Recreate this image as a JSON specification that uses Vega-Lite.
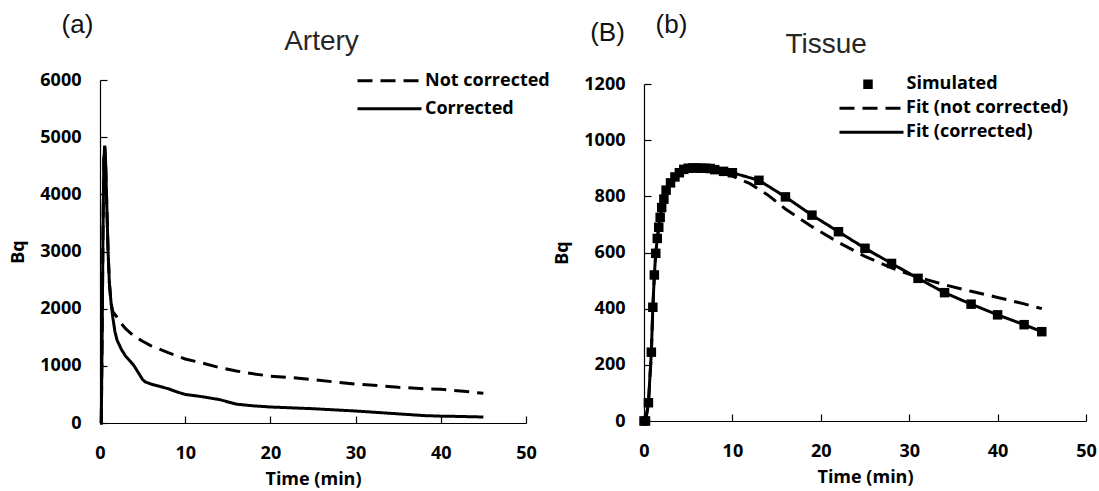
{
  "$schema": "https://vega.github.io/schema/vega-lite/v6.json",
  "background": "white",
  "padding": {"left": 9, "top": 12, "right": 0, "bottom": 0},
  "spacing": 118,
  "bounds": "flush",
  "resolve": {"legend": {"strokeDash": "independent", "shape": "independent"}, "scale": {"x": "independent", "y": "independent", "strokeDash": "independent", "shape": "independent"}},
  "config": {
    "view": {"stroke": null},
    "axis": {
      "domainColor": "black", "domainWidth": 1.2, "tickColor": "black", "tickWidth": 1.2, "tickSize": -7,
      "labelFont": "Open Sans", "labelFontWeight": "bold", "labelFontSize": 18, "labelColor": "black",
      "titleFont": "Open Sans", "titleFontWeight": "bold", "titleFontSize": 18, "titleColor": "black",
      "grid": false, "labelFlush": false, "labelOverlap": false
    },
    "axisX": {"labelPadding": 28, "titlePadding": 8},
    "axisY": {"labelPadding": 26, "titlePadding": 12},
    "legend": {
      "labelFont": "Open Sans", "labelFontWeight": "bold", "labelFontSize": 18, "labelColor": "black",
      "padding": 0, "rowPadding": 0, "symbolStrokeWidth": 3, "symbolStrokeColor": "black", "labelLimit": 300
    }
  },
  "datasets": {
    "artery": [
      {"t": 0, "bq": 0, "series": "Corrected"},
      {"t": 0.15, "bq": 0, "series": "Corrected"},
      {"t": 0.25, "bq": 1500, "series": "Corrected"},
      {"t": 0.35, "bq": 3300, "series": "Corrected"},
      {"t": 0.45, "bq": 4600, "series": "Corrected"},
      {"t": 0.55, "bq": 4850, "series": "Corrected"},
      {"t": 0.65, "bq": 4600, "series": "Corrected"},
      {"t": 0.8, "bq": 3800, "series": "Corrected"},
      {"t": 0.95, "bq": 3000, "series": "Corrected"},
      {"t": 1.1, "bq": 2450, "series": "Corrected"},
      {"t": 1.3, "bq": 2100, "series": "Corrected"},
      {"t": 1.5, "bq": 1850, "series": "Corrected"},
      {"t": 1.75, "bq": 1600, "series": "Corrected"},
      {"t": 2, "bq": 1450, "series": "Corrected"},
      {"t": 2.5, "bq": 1290, "series": "Corrected"},
      {"t": 3, "bq": 1170, "series": "Corrected"},
      {"t": 3.5, "bq": 1090, "series": "Corrected"},
      {"t": 4, "bq": 1000, "series": "Corrected"},
      {"t": 4.5, "bq": 880, "series": "Corrected"},
      {"t": 5, "bq": 760, "series": "Corrected"},
      {"t": 5.3, "bq": 720, "series": "Corrected"},
      {"t": 6, "bq": 680, "series": "Corrected"},
      {"t": 7, "bq": 640, "series": "Corrected"},
      {"t": 8, "bq": 600, "series": "Corrected"},
      {"t": 9, "bq": 545, "series": "Corrected"},
      {"t": 10, "bq": 500, "series": "Corrected"},
      {"t": 12, "bq": 460, "series": "Corrected"},
      {"t": 14, "bq": 410, "series": "Corrected"},
      {"t": 16, "bq": 330, "series": "Corrected"},
      {"t": 18, "bq": 300, "series": "Corrected"},
      {"t": 20, "bq": 280, "series": "Corrected"},
      {"t": 25, "bq": 250, "series": "Corrected"},
      {"t": 30, "bq": 210, "series": "Corrected"},
      {"t": 35, "bq": 160, "series": "Corrected"},
      {"t": 38, "bq": 130, "series": "Corrected"},
      {"t": 40, "bq": 120, "series": "Corrected"},
      {"t": 42, "bq": 115, "series": "Corrected"},
      {"t": 45, "bq": 105, "series": "Corrected"},
      {"t": 0, "bq": 0, "series": "Not corrected"},
      {"t": 0.15, "bq": 0, "series": "Not corrected"},
      {"t": 0.25, "bq": 1500, "series": "Not corrected"},
      {"t": 0.35, "bq": 3300, "series": "Not corrected"},
      {"t": 0.45, "bq": 4600, "series": "Not corrected"},
      {"t": 0.55, "bq": 4850, "series": "Not corrected"},
      {"t": 0.65, "bq": 4600, "series": "Not corrected"},
      {"t": 0.8, "bq": 3800, "series": "Not corrected"},
      {"t": 0.95, "bq": 3000, "series": "Not corrected"},
      {"t": 1.1, "bq": 2450, "series": "Not corrected"},
      {"t": 1.3, "bq": 2100, "series": "Not corrected"},
      {"t": 1.5, "bq": 1950, "series": "Not corrected"},
      {"t": 1.75, "bq": 1900, "series": "Not corrected"},
      {"t": 2, "bq": 1850, "series": "Not corrected"},
      {"t": 2.5, "bq": 1740, "series": "Not corrected"},
      {"t": 3, "bq": 1650, "series": "Not corrected"},
      {"t": 4, "bq": 1520, "series": "Not corrected"},
      {"t": 5, "bq": 1430, "series": "Not corrected"},
      {"t": 6, "bq": 1350, "series": "Not corrected"},
      {"t": 8, "bq": 1230, "series": "Not corrected"},
      {"t": 10, "bq": 1120, "series": "Not corrected"},
      {"t": 12, "bq": 1050, "series": "Not corrected"},
      {"t": 14, "bq": 970, "series": "Not corrected"},
      {"t": 16, "bq": 910, "series": "Not corrected"},
      {"t": 18, "bq": 860, "series": "Not corrected"},
      {"t": 20, "bq": 820, "series": "Not corrected"},
      {"t": 22, "bq": 800, "series": "Not corrected"},
      {"t": 25, "bq": 760, "series": "Not corrected"},
      {"t": 28, "bq": 710, "series": "Not corrected"},
      {"t": 30, "bq": 680, "series": "Not corrected"},
      {"t": 33, "bq": 650, "series": "Not corrected"},
      {"t": 35, "bq": 625, "series": "Not corrected"},
      {"t": 38, "bq": 600, "series": "Not corrected"},
      {"t": 40, "bq": 590, "series": "Not corrected"},
      {"t": 43, "bq": 550, "series": "Not corrected"},
      {"t": 45, "bq": 520, "series": "Not corrected"}
    ],
    "sim": [
      {"t": 0, "bq": 0, "kind": "Simulated"},
      {"t": 0.17, "bq": 0, "kind": "Simulated"},
      {"t": 0.5, "bq": 65, "kind": "Simulated"},
      {"t": 0.83, "bq": 245, "kind": "Simulated"},
      {"t": 1.0, "bq": 405, "kind": "Simulated"},
      {"t": 1.17, "bq": 520, "kind": "Simulated"},
      {"t": 1.33, "bq": 597, "kind": "Simulated"},
      {"t": 1.5, "bq": 650, "kind": "Simulated"},
      {"t": 1.67, "bq": 690, "kind": "Simulated"},
      {"t": 1.83, "bq": 725, "kind": "Simulated"},
      {"t": 2.0, "bq": 760, "kind": "Simulated"},
      {"t": 2.25, "bq": 790, "kind": "Simulated"},
      {"t": 2.5, "bq": 822, "kind": "Simulated"},
      {"t": 3.0, "bq": 848, "kind": "Simulated"},
      {"t": 3.5, "bq": 869, "kind": "Simulated"},
      {"t": 4.0, "bq": 884, "kind": "Simulated"},
      {"t": 4.5, "bq": 896, "kind": "Simulated"},
      {"t": 5, "bq": 900, "kind": "Simulated"},
      {"t": 5.5, "bq": 901, "kind": "Simulated"},
      {"t": 6, "bq": 901, "kind": "Simulated"},
      {"t": 6.5, "bq": 900, "kind": "Simulated"},
      {"t": 7, "bq": 900, "kind": "Simulated"},
      {"t": 7.5, "bq": 899, "kind": "Simulated"},
      {"t": 8, "bq": 895, "kind": "Simulated"},
      {"t": 9, "bq": 889, "kind": "Simulated"},
      {"t": 10, "bq": 884, "kind": "Simulated"},
      {"t": 13, "bq": 857, "kind": "Simulated"},
      {"t": 16, "bq": 798, "kind": "Simulated"},
      {"t": 19, "bq": 733, "kind": "Simulated"},
      {"t": 22, "bq": 674, "kind": "Simulated"},
      {"t": 25, "bq": 615, "kind": "Simulated"},
      {"t": 28, "bq": 561, "kind": "Simulated"},
      {"t": 31, "bq": 508, "kind": "Simulated"},
      {"t": 34, "bq": 457, "kind": "Simulated"},
      {"t": 37, "bq": 416, "kind": "Simulated"},
      {"t": 40, "bq": 378, "kind": "Simulated"},
      {"t": 43, "bq": 343, "kind": "Simulated"},
      {"t": 45, "bq": 318, "kind": "Simulated"}
    ],
    "fit": [
      {"t": 0, "bq": 0, "series": "Fit (corrected)"},
      {"t": 0.17, "bq": 0, "series": "Fit (corrected)"},
      {"t": 0.5, "bq": 65, "series": "Fit (corrected)"},
      {"t": 0.83, "bq": 245, "series": "Fit (corrected)"},
      {"t": 1.0, "bq": 405, "series": "Fit (corrected)"},
      {"t": 1.17, "bq": 520, "series": "Fit (corrected)"},
      {"t": 1.33, "bq": 597, "series": "Fit (corrected)"},
      {"t": 1.5, "bq": 650, "series": "Fit (corrected)"},
      {"t": 1.67, "bq": 690, "series": "Fit (corrected)"},
      {"t": 1.83, "bq": 725, "series": "Fit (corrected)"},
      {"t": 2.0, "bq": 760, "series": "Fit (corrected)"},
      {"t": 2.5, "bq": 822, "series": "Fit (corrected)"},
      {"t": 3.0, "bq": 848, "series": "Fit (corrected)"},
      {"t": 3.5, "bq": 869, "series": "Fit (corrected)"},
      {"t": 4.0, "bq": 884, "series": "Fit (corrected)"},
      {"t": 5, "bq": 900, "series": "Fit (corrected)"},
      {"t": 6, "bq": 901, "series": "Fit (corrected)"},
      {"t": 7, "bq": 900, "series": "Fit (corrected)"},
      {"t": 8, "bq": 895, "series": "Fit (corrected)"},
      {"t": 10, "bq": 884, "series": "Fit (corrected)"},
      {"t": 13, "bq": 857, "series": "Fit (corrected)"},
      {"t": 16, "bq": 798, "series": "Fit (corrected)"},
      {"t": 19, "bq": 733, "series": "Fit (corrected)"},
      {"t": 22, "bq": 674, "series": "Fit (corrected)"},
      {"t": 25, "bq": 615, "series": "Fit (corrected)"},
      {"t": 28, "bq": 561, "series": "Fit (corrected)"},
      {"t": 31, "bq": 508, "series": "Fit (corrected)"},
      {"t": 34, "bq": 457, "series": "Fit (corrected)"},
      {"t": 37, "bq": 416, "series": "Fit (corrected)"},
      {"t": 40, "bq": 378, "series": "Fit (corrected)"},
      {"t": 43, "bq": 343, "series": "Fit (corrected)"},
      {"t": 45, "bq": 318, "series": "Fit (corrected)"},
      {"t": 0, "bq": 0, "series": "Fit (not corrected)"},
      {"t": 0.17, "bq": 0, "series": "Fit (not corrected)"},
      {"t": 0.5, "bq": 60, "series": "Fit (not corrected)"},
      {"t": 0.83, "bq": 240, "series": "Fit (not corrected)"},
      {"t": 1.0, "bq": 400, "series": "Fit (not corrected)"},
      {"t": 1.17, "bq": 515, "series": "Fit (not corrected)"},
      {"t": 1.33, "bq": 595, "series": "Fit (not corrected)"},
      {"t": 1.5, "bq": 648, "series": "Fit (not corrected)"},
      {"t": 1.67, "bq": 688, "series": "Fit (not corrected)"},
      {"t": 1.83, "bq": 722, "series": "Fit (not corrected)"},
      {"t": 2, "bq": 755, "series": "Fit (not corrected)"},
      {"t": 2.5, "bq": 818, "series": "Fit (not corrected)"},
      {"t": 3, "bq": 846, "series": "Fit (not corrected)"},
      {"t": 3.5, "bq": 866, "series": "Fit (not corrected)"},
      {"t": 4, "bq": 880, "series": "Fit (not corrected)"},
      {"t": 5, "bq": 893, "series": "Fit (not corrected)"},
      {"t": 6, "bq": 897, "series": "Fit (not corrected)"},
      {"t": 7, "bq": 896, "series": "Fit (not corrected)"},
      {"t": 8, "bq": 890, "series": "Fit (not corrected)"},
      {"t": 9, "bq": 882, "series": "Fit (not corrected)"},
      {"t": 10, "bq": 872, "series": "Fit (not corrected)"},
      {"t": 12, "bq": 845, "series": "Fit (not corrected)"},
      {"t": 14, "bq": 805, "series": "Fit (not corrected)"},
      {"t": 16, "bq": 755, "series": "Fit (not corrected)"},
      {"t": 19, "bq": 692, "series": "Fit (not corrected)"},
      {"t": 22, "bq": 636, "series": "Fit (not corrected)"},
      {"t": 25, "bq": 586, "series": "Fit (not corrected)"},
      {"t": 28, "bq": 545, "series": "Fit (not corrected)"},
      {"t": 31, "bq": 512, "series": "Fit (not corrected)"},
      {"t": 34, "bq": 485, "series": "Fit (not corrected)"},
      {"t": 37, "bq": 462, "series": "Fit (not corrected)"},
      {"t": 40, "bq": 440, "series": "Fit (not corrected)"},
      {"t": 43, "bq": 417, "series": "Fit (not corrected)"},
      {"t": 45, "bq": 400, "series": "Fit (not corrected)"}
    ]
  },
  "hconcat": [
    {
      "width": 426,
      "height": 343,
      "layer": [
        {
          "data": {"name": "artery"},
          "mark": {"type": "line", "color": "black", "strokeWidth": 3, "strokeCap": "butt"},
          "encoding": {
            "x": {"field": "t", "type": "quantitative", "scale": {"domain": [0, 50], "nice": false},
                  "axis": {"values": [0, 10, 20, 30, 40, 50], "title": "Time (min)", "format": "d"}},
            "y": {"field": "bq", "type": "quantitative", "scale": {"domain": [0, 6000], "nice": false},
                  "axis": {"values": [0, 1000, 2000, 3000, 4000, 5000, 6000], "title": "Bq", "format": "d"}},
            "strokeDash": {"field": "series", "type": "nominal",
              "scale": {"domain": ["Not corrected", "Corrected"], "range": [[15, 8], [1, 0]]},
              "legend": {"title": null, "orient": "none", "legendX": 256, "legendY": -13.2,
                         "symbolType": "stroke", "symbolSize": 4096, "clipHeight": 28, "labelOffset": 2}}
          }
        },
        {
          "data": {"values": [{}]},
          "mark": {"type": "text", "text": "(a)", "font": "Liberation Sans", "fontSize": 26, "align": "center", "baseline": "middle", "color": "#111111"},
          "encoding": {"x": {"datum": -2.64, "type": "quantitative"}, "y": {"datum": 6962, "type": "quantitative"}}
        },
        {
          "data": {"values": [{}]},
          "mark": {"type": "text", "text": "Artery", "font": "Liberation Sans", "fontSize": 28, "align": "center", "baseline": "middle", "color": "#262626"},
          "encoding": {"x": {"datum": 26.0, "type": "quantitative"}, "y": {"datum": 6670, "type": "quantitative"}}
        }
      ]
    },
    {
      "width": 442,
      "height": 341,
      "layer": [
        {
          "data": {"name": "fit"},
          "mark": {"type": "line", "color": "black", "strokeWidth": 3, "strokeCap": "butt"},
          "encoding": {
            "x": {"field": "t", "type": "quantitative", "scale": {"domain": [0, 50], "nice": false},
                  "axis": {"values": [0, 10, 20, 30, 40, 50], "title": "Time (min)", "format": "d"}},
            "y": {"field": "bq", "type": "quantitative", "scale": {"domain": [0, 1200], "nice": false, "range": [341, 4]},
                  "axis": {"values": [0, 200, 400, 600, 800, 1000, 1200], "title": "Bq", "format": "d"}},
            "strokeDash": {"field": "series", "type": "nominal",
              "scale": {"domain": ["Fit (not corrected)", "Fit (corrected)"], "range": [[15, 8], [1, 0]]},
              "legend": {"title": null, "orient": "none", "legendX": 194, "legendY": 16.2,
                         "symbolType": "stroke", "symbolSize": 4096, "clipHeight": 24, "labelOffset": 1}}
          }
        },
        {
          "data": {"name": "sim"},
          "mark": {"type": "point", "filled": true, "color": "black", "size": 90, "opacity": 1},
          "encoding": {
            "x": {"field": "t", "type": "quantitative"},
            "y": {"field": "bq", "type": "quantitative"},
            "shape": {"field": "kind", "type": "nominal",
              "scale": {"domain": ["Simulated"], "range": ["square"]},
              "legend": {"title": null, "orient": "none", "legendX": 215, "legendY": -7.8,
                         "symbolSize": 90, "symbolFillColor": "black", "symbolStrokeWidth": 0, "clipHeight": 24, "labelOffset": 29.5}}
          }
        },
        {
          "data": {"values": [{}]},
          "mark": {"type": "text", "text": "(B)", "font": "Liberation Sans", "fontSize": 26, "align": "center", "baseline": "middle", "color": "#111111"},
          "encoding": {"x": {"datum": -4.13, "type": "quantitative"}, "y": {"datum": 1380, "type": "quantitative"}}
        },
        {
          "data": {"values": [{}]},
          "mark": {"type": "text", "text": "(b)", "font": "Liberation Sans", "fontSize": 26, "align": "center", "baseline": "middle", "color": "#111111"},
          "encoding": {"x": {"datum": 3.11, "type": "quantitative"}, "y": {"datum": 1410, "type": "quantitative"}}
        },
        {
          "data": {"values": [{}]},
          "mark": {"type": "text", "text": "Tissue", "font": "Liberation Sans", "fontSize": 28, "align": "center", "baseline": "middle", "color": "#262626"},
          "encoding": {"x": {"datum": 20.6, "type": "quantitative"}, "y": {"datum": 1339, "type": "quantitative"}}
        }
      ]
    }
  ]
}
